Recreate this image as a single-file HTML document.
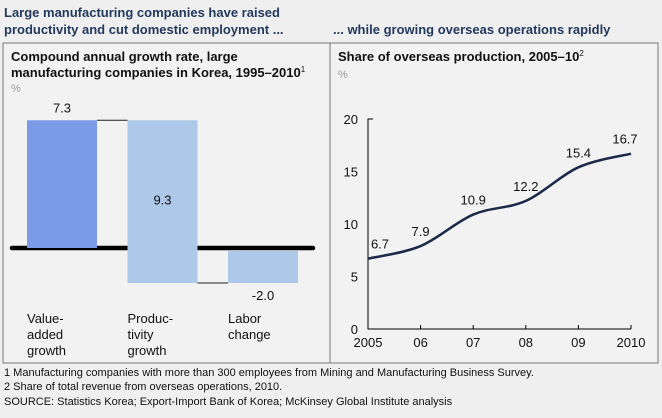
<!DOCTYPE html>
<html><head><meta charset="utf-8"><style>
body{margin:0;width:662px;height:413px;background:#efefef;font-family:"Liberation Sans",Arial,sans-serif;overflow:hidden}
svg text{font-family:"Liberation Sans",Arial,sans-serif}
</style></head><body>
<svg width="662" height="413" xmlns="http://www.w3.org/2000/svg">
<rect x="0" y="0" width="662" height="413" fill="#efefef"/>
<g font-weight="bold" font-size="13" fill="#23395d">
<text x="4" y="17">Large manufacturing companies have raised</text>
<text x="4" y="34">productivity and cut domestic employment ...</text>
<text x="333" y="34">... while growing overseas operations rapidly</text>
</g>
<rect x="3" y="43" width="655" height="320" fill="#f2f2f2" stroke="#777" stroke-width="1"/>
<line x1="330" y1="43" x2="330" y2="363" stroke="#777"/>
<g font-size="13" font-weight="bold" fill="#111">
<text x="11" y="61">Compound annual growth rate, large</text>
<text x="11" y="77">manufacturing companies in Korea, 1995–2010<tspan font-size="8" dy="-5" font-weight="normal">1</tspan></text>
<text x="338" y="61">Share of overseas production, 2005–10<tspan font-size="8" dy="-5" font-weight="normal">2</tspan></text>
</g>
<text x="11" y="92" font-size="11" fill="#999">%</text>
<text x="338" y="78" font-size="11" fill="#999">%</text>
<g id="wf"></g>
<g id="line"></g>
<g font-size="11" fill="#111">
<text x="4" y="376">1  Manufacturing companies with more than 300 employees from Mining and Manufacturing Business Survey.</text>
<text x="4" y="390">2  Share of total revenue from overseas operations, 2010.</text>
<text x="4" y="405">SOURCE: Statistics Korea; Export-Import Bank of Korea; McKinsey Global Institute analysis</text>
</g>
</svg>
<script>
const wfCategories=[["Value-","added","growth"],["Produc-","tivity","growth"],["Labor","change"]];
const wfValues=[7.3,-9.3,-2.0];
const wfLabels=["7.3","9.3","-2.0"];
const lineYears=["2005","06","07","08","09","2010"];
const lineValues=[6.7,7.9,10.9,12.2,15.4,16.7];
const yTicks=[0,5,10,15,20];

const NS="http://www.w3.org/2000/svg";
function mk(p,tag,attrs,txt){const e=document.createElementNS(NS,tag);for(const k in attrs)e.setAttribute(k,attrs[k]);if(txt!==undefined)e.textContent=txt;p.appendChild(e);return e;}

// waterfall
const wf=document.getElementById('wf');
const base=248, ppu=17.5;
const wy=v=>base-v*ppu;
const bx=i=>27+i*100.5, bw=70;
const colors=["#7b9be6","#aec8ea","#aec8ea"];
let cum=0;
const tops=[];
wfValues.forEach((v,i)=>{
  let start=cum, end=cum+v;
  if(i===2){start=0;end=v;}
  tops.push([start,end]);
  cum=end;
});
let bl=mk(wf,'line',{x1:12,y1:base,x2:313,y2:base,stroke:'#000','stroke-width':4.5,'stroke-linecap':'round'});


tops.forEach(([s,e],i)=>{
  let y1=wy(Math.max(s,e)), y2=wy(Math.min(s,e));
  if(i===2) y1+=3;
  const r=mk(wf,'rect',{x:bx(i),y:y1,width:bw,height:y2-y1,fill:colors[i]});
  
  
  let ly = i===0? wy(e)-8 : i===1? wy((s+e)/2)+3 : wy(e)+17;
  const t=mk(wf,'text',{x:bx(i)+bw/2+(i===2?0:0),y:ly,'font-size':13,'text-anchor':'middle',fill:'#111'},wfLabels[i]);
  
  
  wfCategories[i].forEach((w,j)=>{
    const c=mk(wf,'text',{x:bx(i),y:323+j*16,'font-size':13,fill:'#111'},w);
    
    
  });
});
for(let i=0;i<2;i++){
  const yv=i===0?tops[0][1]:tops[1][1];
  const c=mk(wf,'line',{x1:bx(i)+bw,y1:wy(yv),x2:bx(i+1),y2:wy(yv),stroke:'#222','stroke-width':1});
  
  
}

// line chart
const lg=document.getElementById('line');
const x0=368, x1=631, y0=329, yTop=119;
const xs=i=>x0+i*(x1-x0)/(lineYears.length-1);
const ys=v=>y0-(v/20)*(y0-yTop);
let ax=mk(lg,'path',{d:`M${x0+5} ${yTop}H${x0}V${y0}H${x1}`,stroke:'#000',fill:'none','stroke-width':1});


yTicks.forEach(t=>{
  const tl=mk(lg,'text',{x:x0-10,y:ys(t)+5,'font-size':13,'text-anchor':'end',fill:'#111'},t);
  
  
});
lineYears.forEach((y,i)=>{
  if(i>0){const tk=mk(lg,'line',{x1:xs(i),y1:y0,x2:xs(i),y2:y0-4,stroke:'#000'});
  
  }
  const tl=mk(lg,'text',{x:xs(i),y:y0+18,'font-size':13,'text-anchor':'middle',fill:'#111'},y);
  
  
});
let pts=lineValues.map((v,i)=>[xs(i),ys(v)]);
let d=`M${pts[0][0]} ${pts[0][1]}`;
for(let i=0;i<pts.length-1;i++){
  const p0=pts[Math.max(0,i-1)],p1=pts[i],p2=pts[i+1],p3=pts[Math.min(pts.length-1,i+2)];
  const c1=[p1[0]+(p2[0]-p0[0])/6,p1[1]+(p2[1]-p0[1])/6];
  const c2=[p2[0]-(p3[0]-p1[0])/6,p2[1]-(p3[1]-p1[1])/6];
  d+=` C${c1[0]} ${c1[1]} ${c2[0]} ${c2[1]} ${p2[0]} ${p2[1]}`;
}
const ln=mk(lg,'path',{d:d,stroke:'#1c2a4a','stroke-width':2.5,fill:'none'});


lineValues.forEach((v,i)=>{
  const dx=i===0?12:i===5?-6:0;
  const t=mk(lg,'text',{x:pts[i][0]+dx,y:pts[i][1]-10,'font-size':13,'text-anchor':'middle',fill:'#111'},v.toFixed(1));
  
  
});
</script>
</body></html>
